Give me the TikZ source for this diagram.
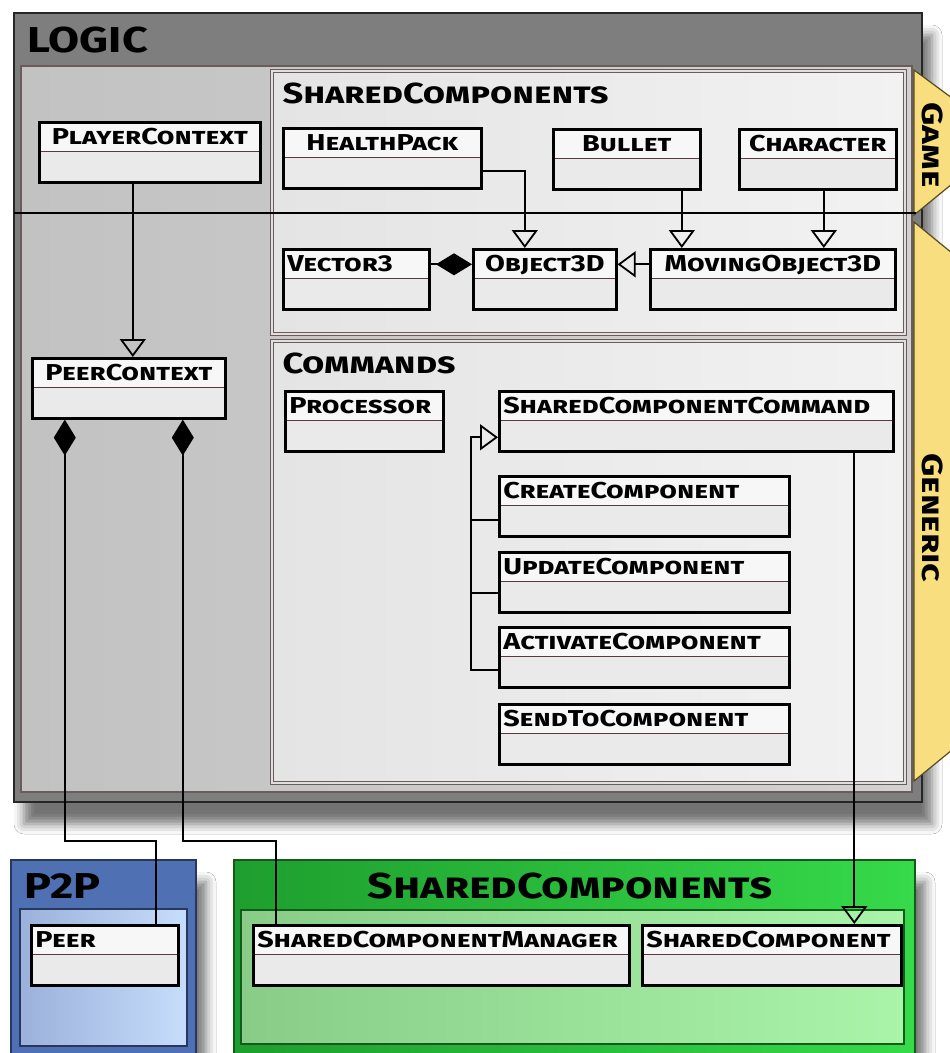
\documentclass[tikz,border=0pt]{standalone}
\usepackage{fontspec}
\newfontfamily\umlfont{Fira Sans}[FakeStretch=1.25]
\usetikzlibrary{arrows.meta,shadows.blur}

\definecolor{logichead}{HTML}{7E7E7E}
\definecolor{logicbody}{HTML}{C2C2C2}
\definecolor{logicbody2}{HTML}{D2D2D2}
\definecolor{pkgedge}{HTML}{6B5B5B}
\definecolor{pkgfill}{HTML}{E4E4E4}
\definecolor{pkgfill2}{HTML}{F2F2F2}
\definecolor{boxfill}{HTML}{EAEAEA}
\definecolor{headfill}{HTML}{F7F7F7}
\definecolor{divcol}{HTML}{5A3A3A}
\definecolor{tabfill}{HTML}{F8DE7E}
\definecolor{tabedge}{HTML}{5A4A20}
\definecolor{p2pedge}{HTML}{26385E}
\definecolor{p2phead}{HTML}{4F70B2}
\definecolor{p2plight}{HTML}{9BB1DB}
\definecolor{p2plight2}{HTML}{C6DDFB}
\definecolor{greenedge}{HTML}{145A1C}
\definecolor{greenhead}{HTML}{1E9E2E}
\definecolor{greenhead2}{HTML}{36DA4A}
\definecolor{greenbody}{HTML}{88CC88}
\definecolor{greenbody2}{HTML}{AAF4AA}

\newcommand\clsfont{\umlfont\bfseries\scshape\fontsize{23pt}{24pt}\selectfont\hyphenpenalty=10000 }
\newcommand\pkgfont{\umlfont\bfseries\scshape\fontsize{29pt}{30pt}\selectfont}
\newcommand\bigfont{\umlfont\bfseries\scshape\fontsize{36pt}{38pt}\selectfont}

\tikzset{
  cls/.style={draw=black, line width=2.6pt, fill=boxfill, anchor=north west,
    inner xsep=4pt, inner ysep=0pt, text height=22pt, text depth=38pt,
    text width=#1pt-8pt, align=left, font=\clsfont,
    path picture={
      \fill[headfill] (path picture bounding box.north west) rectangle ([yshift=-29pt]path picture bounding box.north east);
      \draw[divline] ([yshift=-29pt]path picture bounding box.north west) -- ([yshift=-29pt]path picture bounding box.north east);}},
  divline/.style={draw=divcol, line width=1.6pt},
  link/.style={line width=2pt},
  gen/.style={link, -{Triangle[open,length=18pt,width=26pt,line width=1.8pt]}},
  comp/.style={link, {Diamond[length=36pt,width=22pt,fill=black]}-},
  pkg/.style={draw=pkgedge, double=white!80!pkgedge, double distance=1.2pt, line width=1.6pt, left color=pkgfill, right color=pkgfill2},
  tab/.style={draw=tabedge, line width=1.2pt, fill=tabfill},
  softshadow/.style={blur shadow={shadow xshift=10pt, shadow yshift=-22pt, shadow blur radius=10pt, shadow opacity=55}}
}

\begin{document}
\begin{tikzpicture}[x=1pt,y=-1pt]
\clip (0,0) rectangle (950,1053);
\fill[white] (0,0) rectangle (950,1053);

% Logic frame
\draw[line width=2pt, draw=black!85, fill=logichead, softshadow] (14,13) rectangle (922,802);
\draw[line width=1.6pt, draw=pkgedge, left color=logicbody, right color=logicbody2] (21,66) rectangle (912,792);
\node[anchor=base west, font=\bigfont] (logictitle) at (24,52) {LOGIC};

% Packages
\draw[pkg] (272,71) rectangle (905,334);
\draw[pkg] (272,341) rectangle (905,783);
\node[anchor=base west, font=\pkgfont] (sharedtitle) at (279,103) {SharedComponents};
\node[anchor=base west, font=\pkgfont] (cmdtitle) at (279,373) {Commands};

% Tabs
\draw[tab] (914,70) -- (952,98) -- (952,184) -- (914,215) -- cycle;
\draw[tab] (914,222) -- (952,253) -- (952,750) -- (914,781) -- cycle;
\node[rotate=-90, font=\pkgfont] (gametab) at (933,145) {Game};
\node[rotate=-90, font=\pkgfont] (generictab) at (933,518) {Generic};

% Game / generic split
\draw[link] (14,213) -- (916,213);

% P2P
\draw[line width=2pt, draw=p2pedge, fill=p2phead, softshadow] (11,860) rectangle (196,1075);
\draw[line width=1.6pt, draw=p2pedge, left color=p2plight, right color=p2plight2] (20,909) rectangle (187,1046);
\node[anchor=base west, font=\bigfont] (p2ptitle) at (21,898) {P2P};

% SharedComponents lib
\draw[line width=2pt, draw=greenedge, left color=greenhead, right color=greenhead2, softshadow] (234,860) rectangle (915,1075);
\draw[line width=1.6pt, draw=greenedge, left color=greenbody, right color=greenbody2] (241,910) rectangle (904,1044);
\node[anchor=base, font=\bigfont] (libtitle) at (570,898) {SharedComponents};

% Classes
\node[cls=221, align=center] (player) at (38,121) {PlayerContext};
\node[cls=193, align=center] (peerctx) at (31,357) {PeerContext};
\node[cls=198, align=center] (health) at (282,127) {HealthPack};
\node[cls=147, align=center] (bullet) at (552,128) {Bullet};
\node[cls=157, align=center] (character) at (738,128) {Character};
\node[cls=146] (vector) at (282,248) {Vector3};
\node[cls=143, align=center] (object) at (472,248) {Object3D};
\node[cls=245, align=center] (moving) at (649,248) {MovingObject3D};
\node[cls=158] (processor) at (284,390) {Processor};
\node[cls=394] (command) at (498,390) {SharedComponentCommand};
\node[cls=290] (create) at (498,475) {CreateComponent};
\node[cls=290] (update) at (498,551) {UpdateComponent};
\node[cls=290] (activate) at (498,626) {ActivateComponent};
\node[cls=290] (sendto) at (498,703) {SendToComponent};
\node[cls=147] (peer) at (30,924) {Peer};
\node[cls=376] (manager) at (252,924) {SharedComponentManager};
\node[cls=259] (component) at (641,924) {SharedComponent};

% Inheritance
\draw[gen] ([xshift=-17pt]player.south) -- ([xshift=-17pt]player.south |- peerctx.north);
\draw[gen] ([yshift=-13pt]health.east) -| ([xshift=-20pt]object.north);
\draw[gen] ([xshift=55pt]bullet.south) -- ([xshift=55pt]bullet.south |- moving.north);
\draw[gen] ([xshift=6pt]character.south) -- ([xshift=6pt]character.south |- moving.north);
\draw[gen] ([yshift=15pt]moving.west) -- ([yshift=15pt]object.east);
\draw[comp] ([yshift=15pt]object.west) -- ([yshift=15pt]vector.east);
% Commands
\draw[gen] ([yshift=-13pt]activate.west) -- ++(-27,0) |- ([yshift=-16pt]command.west);
\draw[link] ([yshift=-14pt]create.west) -- ++(-27,0);
\draw[link] ([yshift=-11pt]update.west) -- ++(-27,0);
\draw[gen] ([xshift=158pt]command.south) -- ([xshift=158pt]command.south |- component.north);
% PeerContext
\draw[comp] ([xshift=-64pt]peerctx.south) -- ++(0,421) -| ([xshift=51pt]peer.north);
\draw[comp] ([xshift=54pt]peerctx.south) -- ++(0,421) -| ([xshift=-165pt]manager.north);
\end{tikzpicture}
\end{document}
